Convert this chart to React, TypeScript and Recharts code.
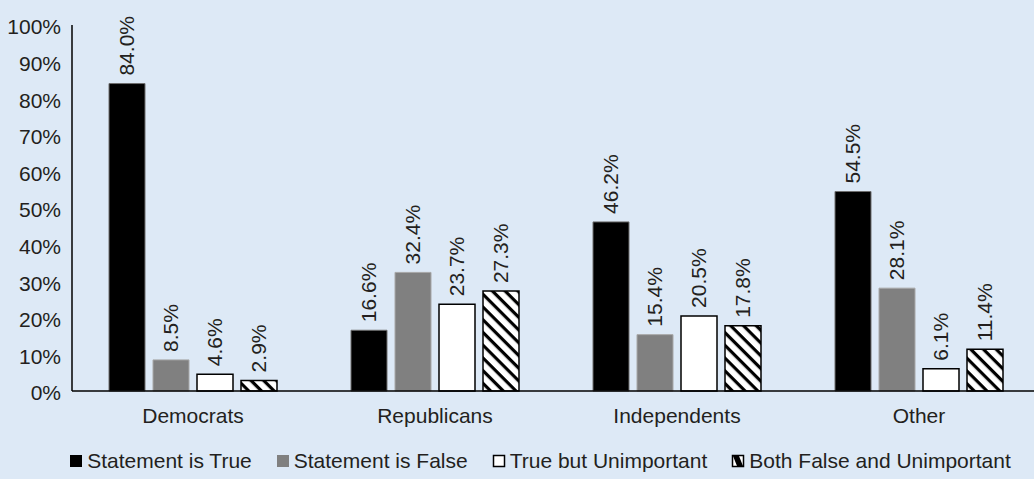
import React from 'react'
import { BarChart, Bar, XAxis, YAxis, Legend, LabelList } from 'recharts'

const groups = ['Democrats', 'Republicans', 'Independents', 'Other']
const statementTrue = [84.0, 16.6, 46.2, 54.5]
const statementFalse = [8.5, 32.4, 15.4, 28.1]
const trueUnimportant = [4.6, 23.7, 20.5, 6.1]
const bothFalse = [2.9, 27.3, 17.8, 11.4]
const yTicks = [0, 10, 20, 30, 40, 50, 60, 70, 80, 90, 100]

const seriesNames = [
  'Statement is True',
  'Statement is False',
  'True but Unimportant',
  'Both False and Unimportant',
]

const chartData = groups.map((g, i) => ({
  group: g,
  isTrue: statementTrue[i],
  isFalse: statementFalse[i],
  trueUnimp: trueUnimportant[i],
  bothFalse: bothFalse[i],
}))

const FONT = '"Liberation Sans", Arial, Helvetica, sans-serif'
const TEXT = '#231f20'
const BG = '#dde9f6'
const FS = 21

// value label above each bar, written bottom-to-top
const renderValue = (props: any) => {
  const { x, y, width, value } = props
  const cx = Number(x) + Number(width) / 2
  const ty = Number(y) - 8
  return (
    <text
      x={cx}
      y={ty}
      transform={`rotate(-90 ${cx} ${ty})`}
      textAnchor="start"
      dominantBaseline="central"
      fontSize={FS}
      fontFamily={FONT}
      fill={TEXT}
    >
      {Number(value).toFixed(1)}%
    </text>
  )
}

const LegendIcon = ({ idx }: { idx: number }) => (
  <svg width={14} height={14} style={{ display: 'block' }}>
    {idx === 0 && <rect x={1} y={1} width={12} height={12} fill="#000" />}
    {idx === 1 && <rect x={1} y={1} width={12} height={12} fill="#808080" />}
    {idx === 2 && <rect x={1.5} y={1.5} width={11} height={11} fill="#fff" stroke="#000" strokeWidth={1.5} />}
    {idx === 3 && (
      <g>
        <rect x={1.5} y={1.5} width={11} height={11} fill="#fff" stroke="#000" strokeWidth={1.5} />
        <polygon points="2,2 8,2 12,12 6,12" fill="#000" />
      </g>
    )}
  </svg>
)

const renderLegend = () => (
  <div
    style={{
      display: 'flex',
      justifyContent: 'center',
      alignItems: 'center',
      gap: 24,
      fontFamily: FONT,
      fontSize: FS,
      color: TEXT,
      paddingTop: 13,
      marginLeft: 40,
    }}
  >
    {seriesNames.map((name, i) => (
      <div key={name} style={{ display: 'flex', alignItems: 'center', gap: 4 }}>
        <LegendIcon idx={i} />
        <span>{name}</span>
      </div>
    ))}
  </div>
)

export default function App() {
  return (
    <div style={{ position: 'absolute', left: 0, top: 0, width: 1034, height: 479, background: BG, overflow: 'hidden' }}>
      <BarChart
        width={1034}
        height={479}
        data={chartData}
        margin={{ top: 25, right: -6, left: 0, bottom: 0 }}
        barCategoryGap={37}
        barGap={8}
      >
        <defs>
          <pattern
            id="hatch"
            patternUnits="userSpaceOnUse"
            width={9}
            height={9}
            patternTransform="rotate(45)"
          >
            <rect width={9} height={9} fill="#fff" />
            <rect width={9} height={3.2} fill="#000" />
          </pattern>
        </defs>
        <XAxis
          dataKey="group"
          height={45}
          tickLine={false}
          axisLine={{ stroke: '#000', strokeWidth: 1.5 }}
          tickMargin={11}
          tick={{ fontSize: FS, fontFamily: FONT, fill: TEXT }}
        />
        <YAxis
          width={72}
          domain={[0, 100]}
          ticks={yTicks}
          interval={0}
          tickLine={false}
          axisLine={{ stroke: '#000', strokeWidth: 1.5 }}
          tickMargin={5}
          tickFormatter={(v: number) => `${v}%`}
          tick={{ fontSize: FS, fontFamily: FONT, fill: TEXT, dy: 2 }}
        />
        <Legend verticalAlign="bottom" height={43} content={renderLegend} />
        <Bar dataKey="isTrue" name={seriesNames[0]} fill="#000" stroke="#6e6e6e" strokeWidth={1} barSize={36} isAnimationActive={false}>
          <LabelList dataKey="isTrue" content={renderValue} />
        </Bar>
        <Bar dataKey="isFalse" name={seriesNames[1]} fill="#808080" stroke="#a8a8a8" strokeWidth={1} barSize={36} isAnimationActive={false}>
          <LabelList dataKey="isFalse" content={renderValue} />
        </Bar>
        <Bar dataKey="trueUnimp" name={seriesNames[2]} fill="#fff" stroke="#000" strokeWidth={1.5} barSize={36} isAnimationActive={false}>
          <LabelList dataKey="trueUnimp" content={renderValue} />
        </Bar>
        <Bar dataKey="bothFalse" name={seriesNames[3]} fill="url(#hatch)" stroke="#000" strokeWidth={1.5} barSize={36} isAnimationActive={false}>
          <LabelList dataKey="bothFalse" content={renderValue} />
        </Bar>
      </BarChart>
    </div>
  )
}
